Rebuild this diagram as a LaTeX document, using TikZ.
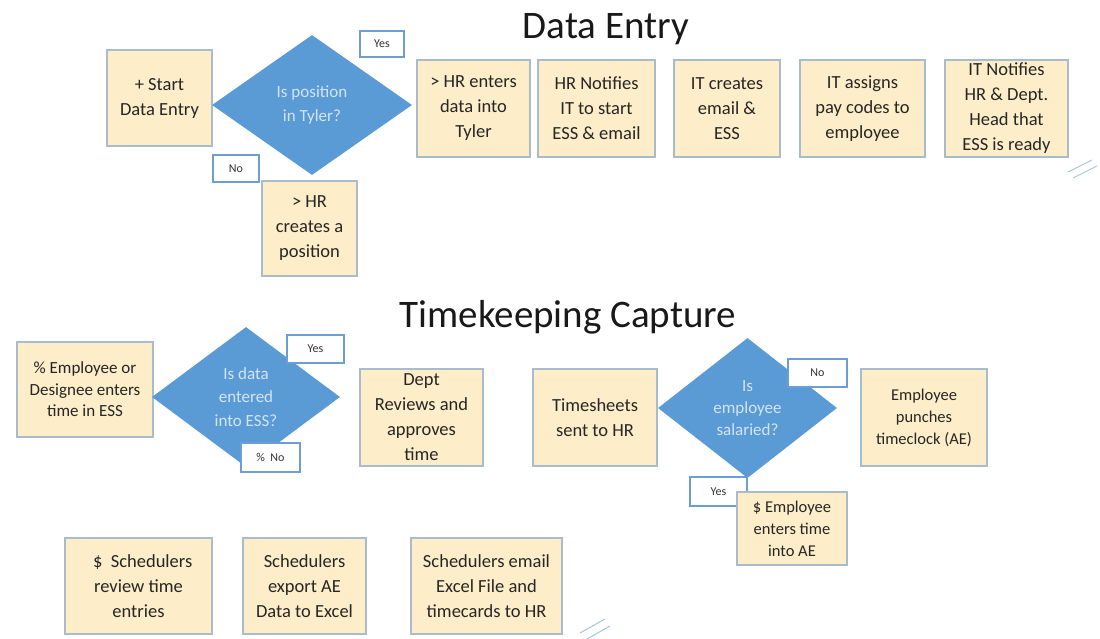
\documentclass[tikz,border=0pt]{standalone}
\usepackage{fontspec}
\setmainfont{Carlito}
\usetikzlibrary{shapes.geometric}
\definecolor{boxfill}{HTML}{FDEDC8}
\definecolor{boxline}{HTML}{A9BCCB}
\definecolor{qfill}{HTML}{5B9BD5}
\definecolor{qtext}{HTML}{D2E4F5}
\definecolor{tagline}{HTML}{6D9ED3}
\definecolor{markline}{HTML}{A8C8E8}
\tikzset{
  stepbox/.style={draw=boxline, line width=1.2pt, fill=boxfill, inner sep=0pt,
    align=center, text=black!85, font=\fontsize{18.5}{25}\selectfont},
  smallbox/.style={stepbox, font=\fontsize{16.5}{22}\selectfont},
  question/.style={diamond, fill=qfill, inner sep=0pt, align=center, text=qtext,
    font=\fontsize{17}{23.5}\selectfont},
  answer/.style={draw=tagline, line width=1.2pt, fill=white, inner sep=0pt,
    text=black!80, font=\fontsize{12}{14}\selectfont},
  heading/.style={anchor=base, text=black!90, font=\fontsize{39}{44}\selectfont},
  slashmark/.style={draw=markline, line width=1.1pt}
}
\begin{document}
\begin{tikzpicture}[x=1pt,y=-1pt]
\useasboundingbox (0,0) rectangle (1100,639);

\begin{scope}
    \node[heading] (dataentry) at (606,39) {Data Entry};
    \node[stepbox, minimum width=105, minimum height=96] (start) at (159.5,98) {+ Start\\Data Entry};
    \node[question, minimum width=200, minimum height=140] (tyler) at (312,105) {Is position\\in Tyler?};
    \node[answer, minimum width=44, minimum height=26] (tyleryes) at (382,44) {Yes};
    \node[answer, minimum width=46, minimum height=27] (tylerno) at (236,168.5) {No};
    \node[stepbox, minimum width=95, minimum height=95] (newpos) at (309.5,228.5) {> HR\\creates a\\position};
    \node[stepbox, minimum width=113, minimum height=97] (enter) at (473.5,108.5) {> HR enters\\data into\\Tyler};
    \node[stepbox, minimum width=117, minimum height=97] (notify) at (596.5,108.5) {HR Notifies\\IT to start\\ESS \& email};
    \node[stepbox, minimum width=106, minimum height=97] (mailess) at (727,108.5) {IT creates\\email \&\\ESS};
    \node[stepbox, minimum width=125, minimum height=97] (paycode) at (862.5,108.5) {IT assigns\\pay codes to\\employee};
    \node[stepbox, minimum width=123, minimum height=97] (ready) at (1006.5,108.5) {IT Notifies\\HR \& Dept.\\Head that\\ESS is ready};
    \draw[slashmark] (1068,172) -- (1092,160);
    \draw[slashmark] (1073,178) -- (1097,166);
\end{scope}

\begin{scope}
    \node[heading] (timekeep) at (568,327) {Timekeeping Capture};
    \node[stepbox, font=\fontsize{17}{21.5}\selectfont, minimum width=136, minimum height=95] (empess) at (85,389.5) {\% Employee or\\Designee enters\\time in ESS};
    \node[question, minimum width=188, minimum height=140] (essq) at (246,397) {Is data\\entered\\into ESS?};
    \node[answer, minimum width=57, minimum height=28] (essyes) at (315.5,349) {Yes};
    \node[answer, minimum width=59, minimum height=29] (essno) at (270.5,457.5) {\%\ \ No};
    \node[stepbox, minimum width=123, minimum height=97] (dept) at (421.5,417.5) {Dept\\Reviews and\\approves\\time};
    \node[stepbox, minimum width=124, minimum height=97] (sheets) at (595,417.5) {Timesheets\\sent to HR};
    \node[question, font=\fontsize{17}{22}\selectfont, minimum width=179, minimum height=140] (salq) at (747.5,408) {Is\\employee\\salaried?};
    \node[answer, minimum width=59, minimum height=28] (salno) at (817.5,373) {No};
    \node[answer, minimum width=57, minimum height=29] (salyes) at (718.5,491.5) {Yes};
    \node[smallbox, minimum width=126, minimum height=97] (punch) at (924,417.5) {Employee\\punches\\timeclock (AE)};
    \node[smallbox, minimum width=110, minimum height=73] (aeentry) at (792,528.5) {\$ Employee\\enters time\\into AE};
    \node[stepbox, minimum width=147, minimum height=96] (review) at (138.5,586) {\ \ \$\ \ Schedulers\\review time\\entries};
    \node[stepbox, minimum width=123, minimum height=96] (export) at (304.5,586) {Schedulers\\export AE\\Data to Excel};
    \node[stepbox, minimum width=151, minimum height=96] (mailhr) at (486.5,586) {Schedulers email\\Excel File and\\timecards to HR};
    \draw[slashmark] (580,633) -- (605,619);
    \draw[slashmark] (587,639) -- (610,626);
\end{scope}
\end{tikzpicture}
\end{document}
